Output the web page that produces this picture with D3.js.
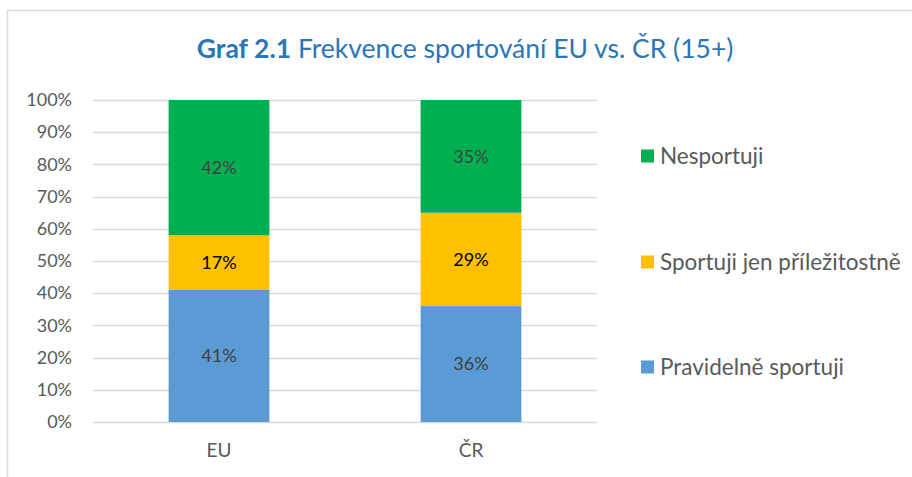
<!DOCTYPE html>
<html><head><meta charset="utf-8">
<script src="https://cdn.jsdelivr.net/npm/d3@7"></script>
<style>body{margin:0;background:#fff;overflow:hidden}svg{display:block}</style>
</head><body>
<script>
const categories = ["EU", "ČR"];
const seriesNames = ["Pravidelně sportuji", "Sportuji jen příležitostně", "Nesportuji"];
const pravidelne = [41, 36];
const prilezitostne = [17, 29];
const nesportuji = [42, 35];
const yTicks = [0, 10, 20, 30, 40, 50, 60, 70, 80, 90, 100];
const colors = ["#5B9BD5", "#FFC000", "#00B050"];
const labelColors = ["#404040", "#000000", "#404040"];

const W = 912, H = 477;
const svg = d3.select("body").append("svg").attr("width", W).attr("height", H);
const font = "Lato, 'Open Sans', sans-serif";

svg.append("rect").attr("x", 7.5).attr("y", 10.5).attr("width", 1000).attr("height", 1000)
  .attr("fill", "none").attr("stroke", "#D9D9D9").attr("stroke-width", 1.5);

const title = svg.append("text").attr("x", 465).attr("y", 58).attr("text-anchor", "middle")
  .attr("font-family", font).attr("font-size", 26.5).attr("fill", "#2E75B6");
title.append("tspan").attr("font-weight", "bold").text("Graf 2.1");
title.append("tspan").text(" Frekvence sportování EU vs. ČR (15+)");

const x = d3.scaleBand().domain(categories).range([93, 597]).paddingInner(0.6).paddingOuter(0.3);
const y = d3.scaleLinear().domain([0, 100]).range([422, 100]);

const grid = svg.append("g");
grid.selectAll("line").data(yTicks).join("line")
  .attr("x1", 93).attr("x2", 597)
  .attr("y1", d => Math.round(y(d)) + 0.5).attr("y2", d => Math.round(y(d)) + 0.5)
  .attr("stroke", "#D9D9D9").attr("stroke-width", 1.3);

const yAxis = svg.append("g").attr("transform", "translate(93,0)")
  .call(d3.axisLeft(y).tickValues(yTicks).tickFormat(d => d + "%").tickSize(0).tickPadding(21));
yAxis.select(".domain").remove();
yAxis.selectAll("text").attr("font-family", font).attr("font-size", 18).attr("fill", "#595959");

const xAxis = svg.append("g").attr("transform", "translate(0,422)")
  .call(d3.axisBottom(x).tickSize(0).tickPadding(22));
xAxis.select(".domain").remove();
xAxis.selectAll("text").attr("font-family", font).attr("font-size", 19).attr("fill", "#595959");

const table = categories.map((c, i) => ({cat: c, s0: pravidelne[i], s1: prilezitostne[i], s2: nesportuji[i]}));
const stacked = d3.stack().keys(["s0", "s1", "s2"])(table);

stacked.forEach((layer, li) => {
  const g = svg.append("g");
  g.selectAll("rect").data(layer).join("rect")
    .attr("x", d => x(d.data.cat)).attr("width", x.bandwidth())
    .attr("y", d => y(d[1])).attr("height", d => y(d[0]) - y(d[1]))
    .attr("fill", colors[li]);
  g.selectAll("text").data(layer).join("text")
    .attr("x", d => x(d.data.cat) + x.bandwidth() / 2)
    .attr("y", d => (y(d[0]) + y(d[1])) / 2)
    .attr("dy", "0.35em").attr("text-anchor", "middle")
    .attr("font-family", font).attr("font-size", 18).attr("fill", labelColors[li])
    .text(d => (d[1] - d[0]) + "%");
});

const legendItems = [
  {name: seriesNames[2], color: colors[2], y: 156},
  {name: seriesNames[1], color: colors[1], y: 262},
  {name: seriesNames[0], color: colors[0], y: 367}
];
const lg = svg.append("g").selectAll("g").data(legendItems).join("g")
  .attr("transform", d => `translate(641,${d.y})`);
lg.append("rect").attr("x", 0).attr("y", -6.5).attr("width", 13).attr("height", 13).attr("fill", d => d.color);
lg.append("text").attr("x", 19).attr("dy", "0.35em")
  .attr("font-family", font).attr("font-size", 22.5).attr("fill", "#595959").text(d => d.name);
</script>
</body></html>
